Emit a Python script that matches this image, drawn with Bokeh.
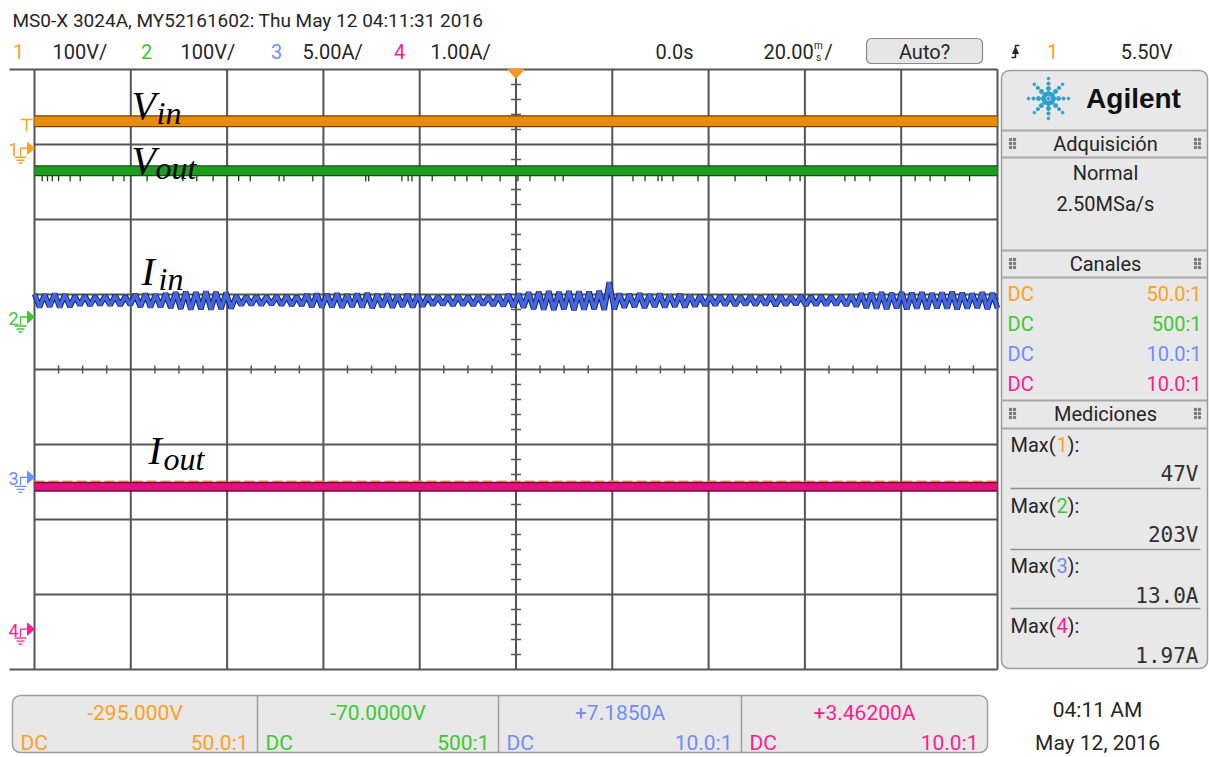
import numpy as np
from bokeh.plotting import figure
from bokeh.models import Range1d
from bokeh.core.properties import value
from bokeh.embed import file_html
from bokeh.resources import INLINE

# ---------------- instrument state ----------------
header_text = "MS0-X 3024A, MY52161602: Thu May 12 04:11:31 2016"
ch_labels = ["1", "2", "3", "4"]
ch_scale = [100.0, 100.0, 5.0, 1.0]            # units per division
ch_offset = [-295.0, -70.0, 7.185, 3.462]      # value at screen centre
ch_scale_text = ["100V/", "100V/", "5.00A/", "1.00A/"]
ch_offset_text = ["-295.000V", "-70.0000V", "+7.1850A", "+3.46200A"]
ch_coupling = ["DC", "DC", "DC", "DC"]
ch_probe = ["50.0:1", "500:1", "10.0:1", "10.0:1"]
ch_text_color = ["#FFA024", "#3DC832", "#6F8CFF", "#FF1C8E"]
time_per_div = 20.0                            # ms / div
time_delay_text = "0.0s"
trigger_mode = "Auto?"
trigger_source = "1"
trigger_level_text = "5.50V"
acq_mode = "Normal"
sample_rate = "2.50MSa/s"
meas_channel = ["1", "2", "3", "4"]
meas_values = ["47V", "203V", "13.0A", "1.97A"]
meas_max = [47.0, 203.0, 13.0, 1.97]
clock_time = "04:11 AM"
clock_date = "May 12, 2016"

# ---------------- waveforms (time in ms) ----------------
vin_t = [-100, -75, -50, -25, 0, 25, 50, 75, 100]
vin_v = [36.0, 36.0, 36.0, 36.0, 36.0, 36.0, 36.0, 36.0, 36.0]

vout_t = [-100, -75, -50, -25, 0, 25, 50, 75, 100]
vout_v = [195.0, 195.0, 195.0, 195.0, 195.0, 195.0, 195.0, 195.0, 195.0]
vout_glitch_t = [-98.4, -97.3, -96.3, -95.0, -92.6, -90.5, -83.7, -81.4, -76.6,
                 -69.2, -66.3, -62.9, -57.6, -55.2, -49.2, -48.2, -42.2, -31.2,
                 -30.6, -23.7, -22.4, -21.6, -17.4, -12.7, -10.2, -7.1, -3.3,
                 0.4, 2.9, 8.1, 9.8, 24.3, 26.8, 29.5, 30.3, 32.6, 37.8, 45.5,
                 52.0, 56.9, 59.0, 68.3, 70.4, 73.5, 82.9, 86.0, 89.1, 94.2]
vout_glitch_lo = 181.0

# input current ripple: successive maxima / minima, one row per division
iin_hi = [12.22, 12.18, 12.24, 12.19, 12.07, 12.10, 12.05, 12.09, 12.11, 12.06,
          12.20, 12.23, 12.19, 12.26, 12.33, 12.37, 12.34, 12.39, 12.35, 12.31,
          12.09, 12.06, 12.08, 12.05, 12.08, 12.10, 12.07, 12.20, 12.23,
          12.21, 12.25, 12.18, 12.23, 12.27, 12.20, 12.24, 12.17, 12.22, 12.16,
          12.08, 12.05, 12.07, 12.10, 12.06, 12.09, 12.04, 12.11, 12.20, 12.24,
          12.33, 12.37, 12.40, 12.35, 12.41, 12.38, 12.36, 12.42, 13.00,
          12.24, 12.20, 12.26, 12.19, 12.23, 12.17, 12.21, 12.15, 12.10, 12.07,
          12.07, 12.10, 12.05, 12.08, 12.06, 12.11, 12.08, 12.04, 12.09, 12.06,
          12.08, 12.06, 12.10, 12.15, 12.25, 12.30, 12.33, 12.28, 12.34,
          12.29, 12.33, 12.27, 12.31, 12.36, 12.30, 12.25, 12.33, 12.28]
iin_lo = [11.34, 11.38, 11.33, 11.37, 11.48, 11.45, 11.50, 11.47, 11.46, 11.49,
          11.36, 11.33, 11.35, 11.30, 11.23, 11.19, 11.21, 11.18, 11.22, 11.25,
          11.47, 11.50, 11.48, 11.51, 11.47, 11.46, 11.44, 11.36, 11.33,
          11.35, 11.31, 11.37, 11.33, 11.29, 11.36, 11.32, 11.38, 11.34, 11.40,
          11.48, 11.50, 11.46, 11.48, 11.45, 11.49, 11.46, 11.42, 11.35, 11.31,
          11.22, 11.19, 11.16, 11.21, 11.15, 11.18, 11.21, 11.17, 11.20,
          11.32, 11.36, 11.30, 11.37, 11.33, 11.38, 11.34, 11.40, 11.45, 11.48,
          11.48, 11.45, 11.50, 11.47, 11.49, 11.44, 11.47, 11.51, 11.46, 11.48,
          11.47, 11.49, 11.45, 11.39, 11.30, 11.25, 11.22, 11.27, 11.21,
          11.26, 11.23, 11.28, 11.25, 11.20, 11.26, 11.30, 11.23, 11.28]

iout_t = [-100, -75, -50, -25, 0, 25, 50, 75, 100]
iout_v = [1.90, 1.90, 1.90, 1.90, 1.90, 1.90, 1.90, 1.90, 1.90]

# ---------------- screen geometry ----------------
W, H = 1209, 757
GX0, GX1, GY0, GY1 = 34, 997, 69, 669
NDX, NDY = 10, 8
DIV_W = (GX1 - GX0) / NDX
DIV_H = (GY1 - GY0) / NDY
GXC = (GX0 + GX1) / 2
GYC = (GY0 + GY1) / 2

UI = "Roboto"
MONO = "DejaVu Sans Mono"
SERIF = "Liberation Serif"
INK = "#262626"

trace_main = ["#E98B0B", "#1F9B1F", "#4567DE", "#E2137D"]
trace_edge = ["#6E4200", "#0B560B", "#17246E", "#76093F"]

p = figure(width=W, height=H, x_range=Range1d(0, W), y_range=Range1d(H, 0),
           output_backend="svg", toolbar_location=None,
           x_axis_location=None, y_axis_location=None, min_border=0,
           outline_line_color=None, background_fill_color="white",
           border_fill_color="white")
p.xgrid.visible = False
p.ygrid.visible = False

# time axis and one vertical scale per channel, mapped onto the graticule
tpp = time_per_div / DIV_W
p.extra_x_ranges = {"t": Range1d(-GXC * tpp, (W - GXC) * tpp)}
yr = {}
for k in range(4):
    vpp = ch_scale[k] / DIV_H
    yr["ch%d" % (k + 1)] = Range1d(ch_offset[k] + (GYC - H) * vpp,
                                   ch_offset[k] + GYC * vpp)
p.extra_y_ranges = yr


def txt(x, y, s, color=INK, size=20, align="left", font=UI, style="normal",
        baseline="middle"):
    p.text(x=[x], y=[y], text=[s], text_color=color, text_font=value(font),
           text_font_size=value("%dpx" % size), text_align=align,
           text_baseline=baseline, text_font_style=style)


def gnd_px(k):
    return GYC + ch_offset[k] / ch_scale[k] * DIV_H


# ---------------- header ----------------
txt(12, 20, header_text, size=19)
num_x = [18, 146, 276, 399]
scl_x = [52, 180, 302, 430]
for k in range(4):
    txt(num_x[k], 51, ch_labels[k], color=ch_text_color[k], align="center")
    txt(scl_x[k], 51, ch_scale_text[k])
txt(655, 51, time_delay_text)
txt(763, 51, "20.00")
txt(818, 45, "m", size=10, align="center")
txt(818, 57, "s", size=10, align="center")
txt(824, 51, "/")
p.quad(left=866, right=982, top=38, bottom=63, fill_color="#E6E6E6",
       line_color="#8A8A8A", line_width=1.2, border_radius=5)
txt(924, 51, trigger_mode, align="center")
p.line(x=[1011, 1015, 1015, 1019], y=[57, 57, 45, 45], line_color=INK, line_width=1.5)
p.patch(x=[1012, 1018, 1015], y=[53, 53, 47], fill_color=INK, line_color=INK)
txt(1052, 51, trigger_source, color=ch_text_color[0], align="center")
txt(1172, 51, trigger_level_text, align="right")

# ---------------- graticule ----------------
GRID = "#555555"
gx = np.linspace(GX0, GX1, NDX + 1)
gy = np.linspace(GY0, GY1, NDY + 1)
p.segment(x0=gx, y0=GY0, x1=gx, y1=GY1, line_color=GRID, line_width=2)
p.segment(x0=GX0, y0=gy, x1=GX1, y1=gy, line_color=GRID, line_width=2)
p.segment(x0=[9, 9], y0=[GY0, GY1], x1=[GX0, GX0], y1=[GY0, GY1],
          line_color=GRID, line_width=2)
mx = np.array([GX0 + i * DIV_W / 4 for i in range(NDX * 4 + 1) if i % 4])
my = np.array([GY0 + j * DIV_H / 5 for j in range(NDY * 5 + 1) if j % 5])
p.segment(x0=mx, y0=GYC - 4, x1=mx, y1=GYC + 4, line_color=GRID, line_width=1.5)
p.segment(x0=GXC - 5, y0=my, x1=GXC + 5, y1=my, line_color=GRID, line_width=1.5)

# trigger position marker
p.patch(x=[GXC - 8, GXC + 8, GXC], y=[GY0, GY0, GY0 + 9],
        fill_color="#F39A1E", line_color="#F39A1E")

# trigger level marker on channel 1
p.line(x=[20, 32], y=[119, 119], line_color=ch_text_color[0], line_width=1.5)
p.line(x=[26, 26], y=[119, 131], line_color=ch_text_color[0], line_width=1.5)

# channel ground markers
for k in range(4):
    g = gnd_px(k)
    c = ch_text_color[k]
    txt(8, g + 1, ch_labels[k], color=c, size=18)
    p.line(x=[20, 20, 27], y=[g + 8, g, g], line_color=c, line_width=1.3)
    p.patch(x=[27, 34, 27], y=[g - 6, g, g + 6], fill_color=c, line_color=c)
    p.segment(x0=[14, 16, 18], y0=[g + 9, g + 12, g + 15],
              x1=[26, 24, 22], y1=[g + 9, g + 12, g + 15], line_color=c, line_width=1.3)

# ---------------- waveforms ----------------
p.line(vin_t, vin_v, x_range_name="t", y_range_name="ch1",
       line_color=trace_edge[0], line_width=12)
p.line(vin_t, vin_v, x_range_name="t", y_range_name="ch1",
       line_color=trace_main[0], line_width=9.5)

p.segment(x0=vout_glitch_t, y0=vout_v[0], x1=vout_glitch_t, y1=vout_glitch_lo,
          x_range_name="t", y_range_name="ch2", line_color="#1E3A1E", line_width=1.3)
p.line(vout_t, vout_v, x_range_name="t", y_range_name="ch2",
       line_color=trace_edge[1], line_width=11)
p.line(vout_t, vout_v, x_range_name="t", y_range_name="ch2",
       line_color=trace_main[1], line_width=8.5)

iin = [v for pair in zip(iin_hi, iin_lo) for v in pair]
iin_t = np.linspace(-100, 100, len(iin))
p.line(iin_t, iin, x_range_name="t", y_range_name="ch3",
       line_color=trace_edge[2], line_width=5.5, line_join="bevel")
p.line(iin_t, iin, x_range_name="t", y_range_name="ch3",
       line_color=trace_main[2], line_width=3.5, line_join="bevel")

p.line([-100, 100], [meas_max[3], meas_max[3]], x_range_name="t", y_range_name="ch4",
       line_color="#F0A040", line_width=2, line_dash="10 4")
p.line(iout_t, iout_v, x_range_name="t", y_range_name="ch4",
       line_color=trace_edge[3], line_width=10)
p.line(iout_t, iout_v, x_range_name="t", y_range_name="ch4",
       line_color=trace_main[3], line_width=7)

# trace names
names = [("V", "in", 131, 105, 156, 112), ("V", "out", 131, 160, 155, 167),
         ("I", "in", 141, 271, 158, 278), ("I", "out", 148, 450, 163, 458)]
for big, sub, bx, by, sx, sy in names:
    txt(bx, by, big, color="black", size=40, font=SERIF, style="italic",
        baseline="alphabetic")
    txt(sx, sy, sub, color="black", size=32, font=SERIF, style="italic",
        baseline="alphabetic")

# ---------------- side panel ----------------
PANEL = "#E8E8E8"
PEDGE = "#9C9C9C"
p.quad(left=1001, right=1207, top=70, bottom=668, fill_color=PANEL,
       line_color=PEDGE, line_width=1.5, border_radius=8)
for yy in [130, 157, 250, 277, 400, 428]:
    p.line(x=[1001, 1207], y=[yy, yy], line_color="#A5A5A5", line_width=2)

# logo spark
ang = np.arange(8) * np.pi / 4
rad = np.array([5.0, 10.0, 15.0, 20.0])
sx_ = (1048 + np.outer(np.cos(ang), rad)).ravel()
sy_ = (98 + np.outer(np.sin(ang), rad)).ravel()
ss_ = np.tile([4.5, 4.0, 3.2, 2.6], 8)
p.scatter(sx_, sy_, size=ss_, color="#2AA3CC", marker="circle")
p.scatter([1048], [98], size=3, color="#2AA3CC")
txt(1133, 98, "Agilent", color="#111111", size=28, font="Liberation Sans",
    style="bold", align="center")

for hy, title in [(143, "Adquisición"), (263, "Canales"), (413, "Mediciones")]:
    txt(1105, hy, title, align="center")
    gxs = [1010, 1014, 1010, 1014, 1010, 1014, 1195, 1199, 1195, 1199, 1195, 1199]
    gys = [hy - 4, hy - 4, hy, hy, hy + 4, hy + 4] * 2
    p.scatter(gxs, gys, size=2.2, marker="square", color="#777777")

txt(1105, 172, acq_mode, align="center")
txt(1105, 203, sample_rate, align="center")

for k in range(4):
    yy = 293 + 30 * k
    txt(1007, yy, ch_coupling[k], color=ch_text_color[k])
    txt(1201, yy, ch_probe[k], color=ch_text_color[k], align="right")

for k in range(4):
    ly = [444, 505, 565, 625][k]
    vy = [473, 534, 595, 655][k]
    txt(1010, ly, "Max(")
    txt(1056, ly, meas_channel[k], color=ch_text_color[k])
    txt(1067, ly, "):")
    txt(1198, vy, meas_values[k], size=21, font=MONO, align="right", color="#303030")
    if k < 3:
        sep = [488, 549, 608][k]
        p.line(x=[1010, 1200], y=[sep, sep], line_color="#8C8C8C", line_width=1.5)

# ---------------- bottom bar ----------------
p.quad(left=12, right=987, top=695, bottom=752, fill_color=PANEL,
       line_color=PEDGE, line_width=1.5, border_radius=8)
edges = [12, 257, 498, 741, 987]
p.segment(x0=edges[1:4], y0=695, x1=edges[1:4], y1=752, line_color="#9C9C9C",
          line_width=1.5)
for k in range(4):
    l, r = edges[k], edges[k + 1]
    c = ch_text_color[k]
    txt((l + r) / 2, 712, ch_offset_text[k], color=c, align="center", size=21)
    txt(l + 8, 742, ch_coupling[k], color=c, size=21)
    txt(r - 9, 742, ch_probe[k], color=c, size=21, align="right")

txt(1097, 709, clock_time, align="center", size=21)
txt(1097, 742, clock_date, align="center", size=21)

open("out.html", "w").write(file_html(p, INLINE))
